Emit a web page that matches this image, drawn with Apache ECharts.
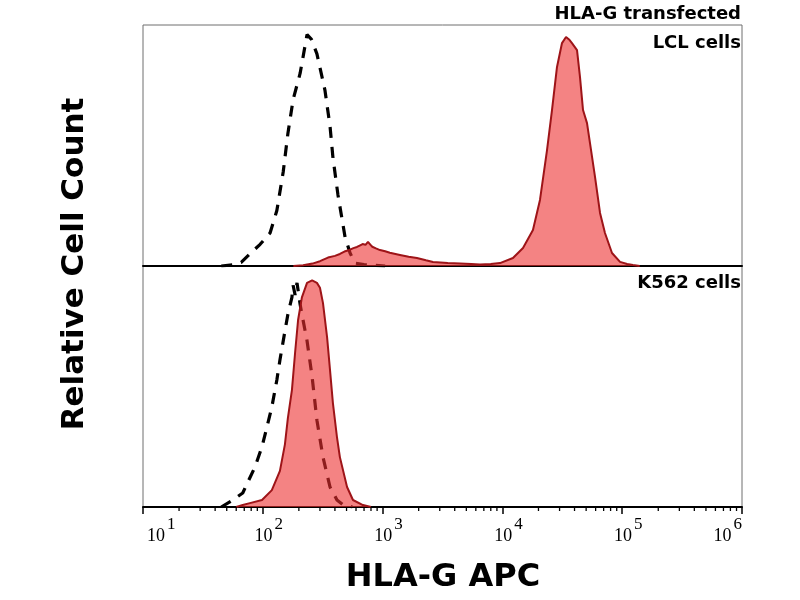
<!DOCTYPE html>
<html>
<head>
<meta charset="utf-8">
<script src="https://cdn.jsdelivr.net/npm/echarts@6/dist/echarts.min.js"></script>
<style>html,body{margin:0;padding:0;background:#fff}#c{width:800px;height:600px}</style>
</head>
<body>
<div id="c"></div>
<script>
// ---- data (fluorescence intensity, relative count %) ----
const TOP_CTRL_X = [45, 56, 66, 78, 95, 115, 131, 148, 162, 179, 205, 234, 255, 283, 330, 364, 385, 424, 486, 535, 589, 700, 850, 1050];
const TOP_CTRL_Y = [0, 0.5, 1.5, 5, 9, 13.7, 23, 39, 55, 69, 80, 96, 94, 88, 73, 58, 45, 29.5, 12, 5.4, 1.2, 0.6, 0.3, 0];

const TOP_HLAG_X = [180, 217, 260, 300, 350, 400, 440, 480, 520, 570, 611, 650, 680, 720, 755, 790, 820, 880, 951, 1050, 1150, 1396, 1650, 1935, 2300, 2635, 3500, 4430, 5500, 6500, 8000, 9550, 12250, 14860, 17990, 20590, 23560, 25940, 28560, 31440, 33960, 36000, 38090, 41960, 44440, 47100, 50850, 53850, 59300, 65300, 71800, 82200, 95900, 110000, 123000, 140000];
const TOP_HLAG_Y = [0, 0.3, 1, 2, 3.5, 4.2, 5, 6, 6.5, 7.4, 7.9, 8.6, 9.1, 8.8, 10, 8.9, 8, 7.3, 6.6, 6.1, 5.5, 4.6, 3.8, 3.3, 2.4, 1.7, 1.2, 1, 0.8, 0.6, 0.8, 1.2, 3.3, 7.5, 14.9, 27.4, 48, 64.7, 82.6, 92.5, 95, 94, 92.5, 89.6, 78.4, 64.7, 59.3, 51, 37, 22, 13.7, 5.4, 1.7, 0.8, 0.4, 0];

const BOT_CTRL_X = [45, 56.5, 68, 86, 98.5, 108, 119, 131, 139, 153, 162, 175, 179, 186, 193, 205, 212, 234, 258, 283, 318, 364, 416, 470, 560];
const BOT_CTRL_Y = [0, 3, 5.8, 16.6, 25, 33, 41.5, 52.7, 61, 73, 80, 87, 92, 88, 93, 84, 80, 69, 54, 36, 20.7, 8.3, 2.9, 0.8, 0];

const BOT_HLAG_X = [60, 68, 78, 98.5, 119, 139, 153, 162, 175, 186, 197, 212, 234, 258, 283, 300, 318, 344, 364, 385, 416, 440, 505, 566, 685, 800];
const BOT_HLAG_Y = [0, 0.8, 1.6, 2.9, 7, 15, 26, 37, 48.5, 64, 77.6, 87, 93, 94, 93, 91, 84.6, 70.5, 56.8, 43, 29, 20.7, 8.3, 2.9, 0.8, 0];

// axis
const X_MIN = 10, X_MAX = 1000000;
const DECADE_STARTS = [10, 100, 1000, 10000, 100000];
const MINOR_MULTS = [2, 3, 4, 5, 6, 7, 8, 9];
const PANEL_LABELS = ['LCL cells', 'K562 cells'];
const HEADER = 'HLA-G transfected';
const X_TITLE = 'HLA-G APC';
const Y_TITLE = 'Relative Cell Count';

// ---- build ----
const zip = (xs, ys) => xs.map((x, i) => [x, ys[i]]);
const minorTicks = [];
DECADE_STARTS.forEach(d => MINOR_MULTS.forEach(m => minorTicks.push(d * m)));

const chart = echarts.init(document.getElementById('c'), null, {renderer: 'canvas'});

const gridCommon = {left: 143, right: 58, height: 241, show: true, borderColor: '#6f6f6f', borderWidth: 1, backgroundColor: 'transparent'};

const ctrlStyle = {color: '#000', width: 3.2, type: [11, 9], cap: 'butt'};
const hlagLine = {color: '#9e1418', width: 2};
const hlagArea = {color: 'rgba(236,48,48,0.6)', opacity: 1, origin: 'start'};

const xAxisCommon = {
  type: 'log', logBase: 10, min: X_MIN, max: X_MAX,
  splitLine: {show: false},
  axisLine: {show: true, lineStyle: {color: '#000', width: 2}}
};

function tickLabel(value) {
  const n = Math.round(Math.log10(value));
  if (value <= X_MIN) return '{s1| }{b|10}{e|' + n + '}';
  if (value >= X_MAX) return '{b|10}{e|' + n + '}';
  return '{sp| }{b|10}{e|' + n + '}';
}

const option = {
  animation: false,
  backgroundColor: '#fff',
  grid: [
    Object.assign({top: 25}, gridCommon),
    Object.assign({top: 266}, gridCommon)
  ],
  xAxis: [
    Object.assign({gridIndex: 0, axisTick: {show: false}, axisLabel: {show: false}}, xAxisCommon),
    Object.assign({
      gridIndex: 1,
      axisTick: {show: true, length: 7, lineStyle: {color: '#000', width: 1.5}},
      axisLabel: {
        show: true, margin: 9, align: 'center',
        alignMinLabel: 'left', alignMaxLabel: 'right',
        formatter: tickLabel,
        rich: {
          b: {fontFamily: 'Liberation Serif', fontSize: 18, color: '#000', lineHeight: 40},
          e: {fontFamily: 'Liberation Serif', fontSize: 17, color: '#000', verticalAlign: 'top', padding: [0, 0, 0, 2]},
          sp: {width: 12},
          s1: {width: 4}
        }
      }
    }, xAxisCommon)
  ],
  yAxis: [
    {type: 'value', gridIndex: 0, min: 0, max: 100, show: false},
    {type: 'value', gridIndex: 1, min: 0, max: 100, show: false}
  ],
  series: [
    {type: 'line', xAxisIndex: 0, yAxisIndex: 0, data: zip(TOP_CTRL_X, TOP_CTRL_Y), showSymbol: false, lineStyle: ctrlStyle, z: 2},
    {type: 'line', xAxisIndex: 0, yAxisIndex: 0, data: zip(TOP_HLAG_X, TOP_HLAG_Y), showSymbol: false, lineStyle: hlagLine, areaStyle: hlagArea, z: 3},
    {type: 'line', xAxisIndex: 1, yAxisIndex: 1, data: zip(BOT_CTRL_X, BOT_CTRL_Y), showSymbol: false, lineStyle: ctrlStyle, z: 2},
    {type: 'line', xAxisIndex: 1, yAxisIndex: 1, data: zip(BOT_HLAG_X, BOT_HLAG_Y), showSymbol: false, lineStyle: hlagLine, areaStyle: hlagArea, z: 3},
    {
      type: 'custom', xAxisIndex: 1, yAxisIndex: 1, data: minorTicks.map(v => [v, 0]), z: 5, silent: true, clip: false,
      renderItem: function (params, api) {
        const p = api.coord([api.value(0), 0]);
        return {type: 'line', shape: {x1: p[0], y1: p[1], x2: p[0], y2: p[1] + 4}, style: {stroke: '#000', lineWidth: 1.3}};
      }
    }
  ],
  graphic: [
    {type: 'text', x: 741, y: 14, style: {text: HEADER, align: 'right', verticalAlign: 'middle', font: 'bold 18px "DejaVu Sans"', fill: '#000'}},
    {type: 'text', x: 741, y: 43, style: {text: PANEL_LABELS[0], align: 'right', verticalAlign: 'middle', font: 'bold 18px "DejaVu Sans"', fill: '#000'}},
    {type: 'text', x: 741, y: 283, style: {text: PANEL_LABELS[1], align: 'right', verticalAlign: 'middle', font: 'bold 18px "DejaVu Sans"', fill: '#000'}},
    {type: 'text', x: 75, y: 264, rotation: Math.PI / 2, style: {text: Y_TITLE, align: 'center', verticalAlign: 'middle', font: 'bold 31px "DejaVu Sans"', fill: '#000'}},
    {type: 'text', x: 443, y: 578, style: {text: X_TITLE, align: 'center', verticalAlign: 'middle', font: 'bold 32px "DejaVu Sans"', fill: '#000'}}
  ]
};
chart.setOption(option);
</script>
</body>
</html>
